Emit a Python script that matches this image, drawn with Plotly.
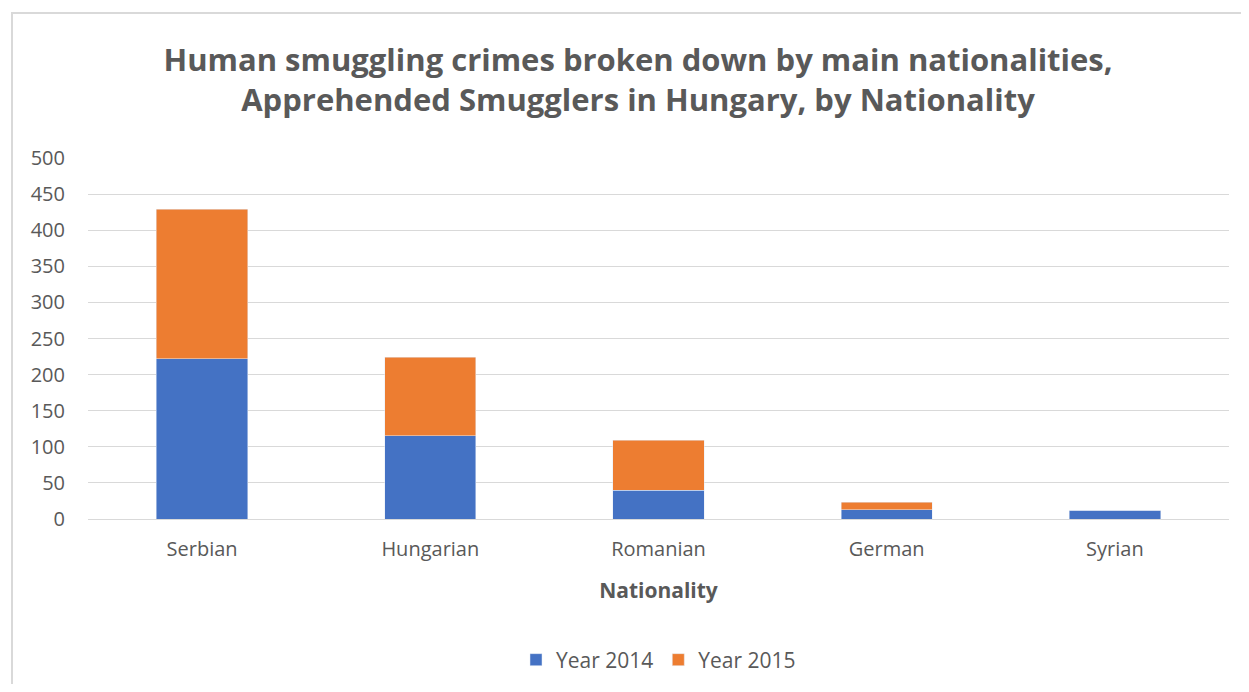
import plotly.graph_objects as go

categories = ["Serbian", "Hungarian", "Romanian", "German", "Syrian"]
year2014 = [222, 115, 40, 13, 12]
year2015 = [207, 109, 69, 10, 0]
yticks = [0, 50, 100, 150, 200, 250, 300, 350, 400, 450, 500]

OFF = 8  # browser default body margin
W, H = 1249 - 2 * OFF, 692 - 2 * OFF
PX0, PX1, PY0, PY1 = 88, 1229, 158, 519  # plot area in window pixels
L, T = PX0 - OFF, PY0 - OFF
R = W - L - (PX1 - PX0)
B = H - T - (PY1 - PY0)
FONT = "'Open Sans', 'Segoe UI', sans-serif"
GRAY = "#595959"

fig = go.Figure()
fig.add_trace(go.Bar(name="Year 2014", x=categories, y=year2014, marker_color="#4472C4"))
fig.add_trace(go.Bar(name="Year 2015", x=categories, y=year2015, marker_color="#ED7D31"))

pw = PX1 - PX0
ph = PY1 - PY0

def px_x(x):  # window pixel x -> paper
    return (x - PX0) / pw

def px_y(y):  # window pixel y -> paper
    return (PY1 - y) / ph

fig.add_shape(type="rect", xref="paper", yref="paper",
              x0=px_x(12), x1=px_x(1300), y0=px_y(760), y1=px_y(13),
              line=dict(color="#d9d9d9", width=2), layer="below")

fig.update_layout(
    width=W, height=H,
    barmode="stack", bargap=0.6,
    plot_bgcolor="white", paper_bgcolor="white",
    margin=dict(l=L, r=R, t=T, b=B, autoexpand=False),
    font=dict(family=FONT, color=GRAY, size=20),
    title=dict(text="Human smuggling crimes broken down by main nationalities,<br>Apprehended Smugglers in Hungary, by Nationality",
               x=(638 - OFF) / W, xanchor="center", y=1 - (71 - OFF) / H, yanchor="middle",
               font=dict(family=FONT, size=31, color=GRAY, weight="bold")),
    xaxis=dict(title=dict(text="Nationality", font=dict(size=21, color=GRAY, weight="bold"), standoff=22),
               showline=True, linecolor="#d9d9d9", ticks="", ticklabelstandoff=12,
               tickfont=dict(size=20, color=GRAY), automargin=False),
    yaxis=dict(range=[0, 500], tickvals=yticks, showgrid=True, gridcolor="#d9d9d9",
               zeroline=False, ticks="", tickfont=dict(size=20, color=GRAY), ticklabelstandoff=22,
               automargin=False),
    legend=dict(orientation="h", x=0.5, xanchor="center", y=px_y(660), yanchor="middle",
                font=dict(size=21, color=GRAY), traceorder="normal"),
)

fig.write_html("out.html")
